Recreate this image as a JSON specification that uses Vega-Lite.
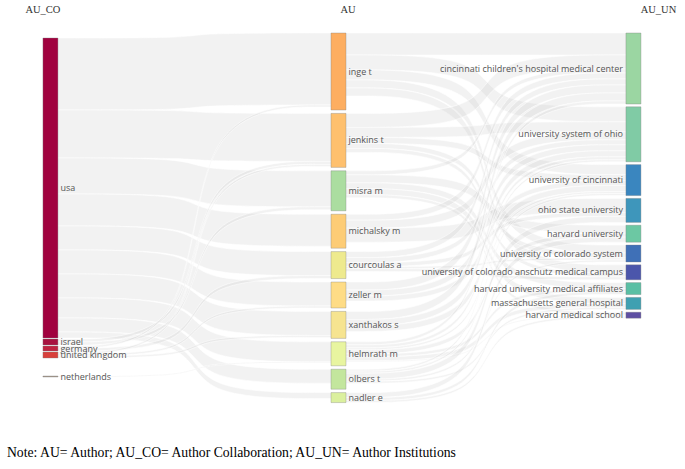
{
  "$schema": "https://vega.github.io/schema/vega-lite/v6.json",
  "width": 685,
  "height": 469,
  "autosize": {"type": "fit", "contains": "padding"},
  "padding": 0,
  "background": "white",
  "config": {"view": {"stroke": null}},
  "datasets": {
    "sankey": [
      {"kind": "node", "name": "usa", "col": 0, "ord": 0, "value": 300},
      {"kind": "node", "name": "israel", "col": 0, "ord": 1, "value": 6},
      {"kind": "node", "name": "germany", "col": 0, "ord": 2, "value": 5},
      {"kind": "node", "name": "united kingdom", "col": 0, "ord": 3, "value": 6},
      {"kind": "node", "name": "netherlands", "col": 0, "ord": 4, "value": 1},
      {"kind": "node", "name": "inge t", "col": 1, "ord": 0, "value": 77},
      {"kind": "node", "name": "jenkins t", "col": 1, "ord": 1, "value": 54},
      {"kind": "node", "name": "misra m", "col": 1, "ord": 2, "value": 40},
      {"kind": "node", "name": "michalsky m", "col": 1, "ord": 3, "value": 34},
      {"kind": "node", "name": "courcoulas a", "col": 1, "ord": 4, "value": 27},
      {"kind": "node", "name": "zeller m", "col": 1, "ord": 5, "value": 26},
      {"kind": "node", "name": "xanthakos s", "col": 1, "ord": 6, "value": 27},
      {"kind": "node", "name": "helmrath m", "col": 1, "ord": 7, "value": 24},
      {"kind": "node", "name": "olbers t", "col": 1, "ord": 8, "value": 20},
      {"kind": "node", "name": "nadler e", "col": 1, "ord": 9, "value": 10},
      {"kind": "node", "name": "cincinnati children's hospital medical center", "col": 2, "ord": 0, "value": 71},
      {"kind": "node", "name": "university system of ohio", "col": 2, "ord": 1, "value": 55},
      {"kind": "node", "name": "university of cincinnati", "col": 2, "ord": 2, "value": 31},
      {"kind": "node", "name": "ohio state university", "col": 2, "ord": 3, "value": 24},
      {"kind": "node", "name": "harvard university", "col": 2, "ord": 4, "value": 17},
      {"kind": "node", "name": "university of colorado system", "col": 2, "ord": 5, "value": 17},
      {"kind": "node", "name": "university of colorado anschutz medical campus", "col": 2, "ord": 6, "value": 15},
      {"kind": "node", "name": "harvard university medical affiliates", "col": 2, "ord": 7, "value": 12},
      {"kind": "node", "name": "massachusetts general hospital", "col": 2, "ord": 8, "value": 12},
      {"kind": "node", "name": "harvard medical school", "col": 2, "ord": 9, "value": 6},

      {"kind": "link", "source": "usa", "target": "inge t", "value": 72},
      {"kind": "link", "source": "usa", "target": "jenkins t", "value": 48},
      {"kind": "link", "source": "usa", "target": "misra m", "value": 36},
      {"kind": "link", "source": "usa", "target": "michalsky m", "value": 32},
      {"kind": "link", "source": "usa", "target": "courcoulas a", "value": 24},
      {"kind": "link", "source": "usa", "target": "zeller m", "value": 24},
      {"kind": "link", "source": "usa", "target": "xanthakos s", "value": 24},
      {"kind": "link", "source": "usa", "target": "helmrath m", "value": 20},
      {"kind": "link", "source": "usa", "target": "olbers t", "value": 14},
      {"kind": "link", "source": "usa", "target": "nadler e", "value": 6},
      {"kind": "link", "source": "israel", "target": "jenkins t", "value": 3},
      {"kind": "link", "source": "israel", "target": "misra m", "value": 3},
      {"kind": "link", "source": "germany", "target": "inge t", "value": 2},
      {"kind": "link", "source": "germany", "target": "courcoulas a", "value": 3},
      {"kind": "link", "source": "united kingdom", "target": "jenkins t", "value": 2},
      {"kind": "link", "source": "united kingdom", "target": "zeller m", "value": 2},
      {"kind": "link", "source": "united kingdom", "target": "xanthakos s", "value": 2},
      {"kind": "link", "source": "netherlands", "target": "helmrath m", "value": 1},

      {"kind": "link", "source": "inge t", "target": "cincinnati children's hospital medical center", "value": 22},
      {"kind": "link", "source": "inge t", "target": "university system of ohio", "value": 15},
      {"kind": "link", "source": "inge t", "target": "university of cincinnati", "value": 10},
      {"kind": "link", "source": "inge t", "target": "university of colorado system", "value": 8},
      {"kind": "link", "source": "inge t", "target": "university of colorado anschutz medical campus", "value": 8},
      {"kind": "link", "source": "jenkins t", "target": "cincinnati children's hospital medical center", "value": 14},
      {"kind": "link", "source": "jenkins t", "target": "university system of ohio", "value": 10},
      {"kind": "link", "source": "jenkins t", "target": "university of cincinnati", "value": 6},
      {"kind": "link", "source": "jenkins t", "target": "university of colorado system", "value": 5},
      {"kind": "link", "source": "jenkins t", "target": "university of colorado anschutz medical campus", "value": 4},
      {"kind": "link", "source": "misra m", "target": "cincinnati children's hospital medical center", "value": 4},
      {"kind": "link", "source": "misra m", "target": "harvard university", "value": 8},
      {"kind": "link", "source": "misra m", "target": "harvard university medical affiliates", "value": 6},
      {"kind": "link", "source": "misra m", "target": "massachusetts general hospital", "value": 6},
      {"kind": "link", "source": "misra m", "target": "harvard medical school", "value": 3},
      {"kind": "link", "source": "michalsky m", "target": "cincinnati children's hospital medical center", "value": 6},
      {"kind": "link", "source": "michalsky m", "target": "university system of ohio", "value": 8},
      {"kind": "link", "source": "michalsky m", "target": "ohio state university", "value": 14},
      {"kind": "link", "source": "courcoulas a", "target": "cincinnati children's hospital medical center", "value": 6},
      {"kind": "link", "source": "courcoulas a", "target": "university system of ohio", "value": 5},
      {"kind": "link", "source": "courcoulas a", "target": "ohio state university", "value": 4},
      {"kind": "link", "source": "courcoulas a", "target": "university of colorado system", "value": 2},
      {"kind": "link", "source": "courcoulas a", "target": "university of colorado anschutz medical campus", "value": 3},
      {"kind": "link", "source": "zeller m", "target": "cincinnati children's hospital medical center", "value": 8},
      {"kind": "link", "source": "zeller m", "target": "university system of ohio", "value": 6},
      {"kind": "link", "source": "zeller m", "target": "university of cincinnati", "value": 5},
      {"kind": "link", "source": "xanthakos s", "target": "cincinnati children's hospital medical center", "value": 8},
      {"kind": "link", "source": "xanthakos s", "target": "university system of ohio", "value": 6},
      {"kind": "link", "source": "xanthakos s", "target": "university of cincinnati", "value": 6},
      {"kind": "link", "source": "helmrath m", "target": "cincinnati children's hospital medical center", "value": 3},
      {"kind": "link", "source": "helmrath m", "target": "university system of ohio", "value": 3},
      {"kind": "link", "source": "helmrath m", "target": "university of cincinnati", "value": 2},
      {"kind": "link", "source": "helmrath m", "target": "harvard university", "value": 4},
      {"kind": "link", "source": "helmrath m", "target": "harvard university medical affiliates", "value": 3},
      {"kind": "link", "source": "helmrath m", "target": "massachusetts general hospital", "value": 4},
      {"kind": "link", "source": "helmrath m", "target": "harvard medical school", "value": 1},
      {"kind": "link", "source": "olbers t", "target": "university system of ohio", "value": 2},
      {"kind": "link", "source": "olbers t", "target": "university of cincinnati", "value": 2},
      {"kind": "link", "source": "olbers t", "target": "ohio state university", "value": 6},
      {"kind": "link", "source": "olbers t", "target": "university of colorado system", "value": 2},
      {"kind": "link", "source": "olbers t", "target": "massachusetts general hospital", "value": 2},
      {"kind": "link", "source": "nadler e", "target": "harvard university", "value": 5},
      {"kind": "link", "source": "nadler e", "target": "harvard university medical affiliates", "value": 3},
      {"kind": "link", "source": "nadler e", "target": "harvard medical school", "value": 2}
    ]
  },
  "layer": [
    {
      "data": {"name": "sankey"},
      "transform": [
        {"calculate": "datum.kind == 'node' ? datum.name : datum.source", "as": "skey"},
        {"calculate": "datum.kind == 'node' ? datum.name : datum.target", "as": "tkey"},
        {"window": [{"op": "sum", "field": "value", "as": "cum"}], "groupby": ["kind", "col"], "sort": [{"field": "ord", "order": "ascending"}], "frame": [null, 0]},
        {"calculate": "datum.kind == 'node' ? [38, 33, 33][datum.col] + datum.cum - datum.value + datum.ord * [1, 3.4, 2.8][datum.col] + (datum.col == 0 && datum.ord == 4 ? 17 : 0) : null", "as": "ny0"},
        {"joinaggregate": [{"op": "max", "field": "ny0", "as": "sNY"}, {"op": "max", "field": "ord", "as": "sOrd"}, {"op": "max", "field": "col", "as": "sCol"}], "groupby": ["skey"]},
        {"joinaggregate": [{"op": "max", "field": "ny0", "as": "tNY"}, {"op": "max", "field": "ord", "as": "tOrd"}], "groupby": ["tkey"]},
        {"filter": "datum.kind == 'link'"},
        {"window": [{"op": "sum", "field": "value", "as": "sCum"}], "groupby": ["source"], "sort": [{"field": "tOrd", "order": "ascending"}], "frame": [null, 0]},
        {"window": [{"op": "sum", "field": "value", "as": "tCum"}], "groupby": ["target"], "sort": [{"field": "sOrd", "order": "ascending"}], "frame": [null, 0]},
        {"calculate": "[0, 1, 2, 3]", "as": "k"},
        {"flatten": ["k"]},
        {"calculate": "datum.sCol + (datum.k == 0 ? 0 : (datum.k == 3 ? 1 : 0.5))", "as": "px"},
        {"calculate": "datum.k < 2 ? datum.sNY + datum.sCum - datum.value : datum.tNY + datum.tCum - datum.value", "as": "top"},
        {"calculate": "datum.k < 2 ? datum.sNY + datum.sCum : datum.tNY + datum.tCum", "as": "bot"},
        {"calculate": "datum.source + '|' + datum.target", "as": "lid"}
      ],
      "mark": {"type": "area", "interpolate": "basis", "fill": "#c4c4c4", "fillOpacity": 0.22, "stroke": "#ffffff", "strokeWidth": 0.7, "strokeOpacity": 0.8},
      "encoding": {
        "x": {"field": "px", "type": "quantitative", "axis": null, "scale": {"type": "linear", "domain": [0, 1, 2], "range": [45.5, 338.5, 638.5], "zero": false, "nice": false}},
        "y": {"field": "top", "type": "quantitative", "axis": null, "scale": {"type": "linear", "domain": [0, 469], "reverse": true, "zero": false, "nice": false}},
        "y2": {"field": "bot"},
        "detail": {"field": "lid", "type": "nominal"}
      }
    },
    {
      "data": {"name": "sankey"},
      "transform": [
        {"filter": "datum.kind == 'node'"},
        {"window": [{"op": "sum", "field": "value", "as": "cum"}], "groupby": ["col"], "sort": [{"field": "ord", "order": "ascending"}], "frame": [null, 0]},
        {"calculate": "[38, 33, 33][datum.col] + datum.cum - datum.value + datum.ord * [1, 3.4, 2.8][datum.col] + (datum.col == 0 && datum.ord == 4 ? 17 : 0)", "as": "ny0"},
        {"calculate": "datum.ny0 + datum.value", "as": "ny1"}
      ],
      "mark": {"type": "bar", "width": 15, "stroke": "#808080", "strokeWidth": 0.5, "strokeOpacity": 0.7},
      "encoding": {
        "x": {"field": "col", "type": "quantitative", "axis": null, "scale": {"type": "linear", "domain": [0, 1, 2], "range": [45.5, 338.5, 638.5], "zero": false, "nice": false}},
        "y": {"field": "ny0", "type": "quantitative", "axis": null, "scale": {"type": "linear", "domain": [0, 469], "reverse": true, "zero": false, "nice": false}},
        "y2": {"field": "ny1"},
        "color": {
          "field": "name", "type": "nominal", "legend": null,
          "scale": {
            "domain": ["usa", "israel", "germany", "united kingdom", "netherlands", "inge t", "jenkins t", "misra m", "michalsky m", "courcoulas a", "zeller m", "xanthakos s", "helmrath m", "olbers t", "nadler e", "cincinnati children's hospital medical center", "university system of ohio", "university of cincinnati", "ohio state university", "harvard university", "university of colorado system", "university of colorado anschutz medical campus", "harvard university medical affiliates", "massachusetts general hospital", "harvard medical school"],
            "range": ["#a0023f", "#a8123f", "#c02340", "#d8403c", "#a89a8c", "#fdae61", "#fec06e", "#abdda0", "#fdcc76", "#eeea8e", "#fedc86", "#f6e490", "#e8f5a0", "#c3e69d", "#dbf09e", "#9bd6a2", "#80cba5", "#3a86bf", "#3e96bb", "#6cc8a3", "#3f70b7", "#4b56ab", "#5abfa4", "#3fa0b1", "#5e4fa2"]
          }
        }
      }
    },
    {
      "data": {"name": "sankey"},
      "transform": [
        {"filter": "datum.kind == 'node'"},
        {"window": [{"op": "sum", "field": "value", "as": "cum"}], "groupby": ["col"], "sort": [{"field": "ord", "order": "ascending"}], "frame": [null, 0]},
        {"calculate": "[38, 33, 33][datum.col] + datum.cum - datum.value + datum.ord * [1, 3.4, 2.8][datum.col] + (datum.col == 0 && datum.ord == 4 ? 17 : 0)", "as": "ny0"},
        {"calculate": "datum.ny0 + datum.value / 2", "as": "mid"},
        {"filter": "datum.col < 2"}
      ],
      "mark": {"type": "text", "align": "left", "baseline": "middle", "dx": 10, "font": "Open Sans", "fontSize": 9, "color": "#555555"},
      "encoding": {
        "x": {"field": "col", "type": "quantitative", "axis": null, "scale": {"type": "linear", "domain": [0, 1, 2], "range": [45.5, 338.5, 638.5], "zero": false, "nice": false}},
        "y": {"field": "mid", "type": "quantitative", "axis": null, "scale": {"type": "linear", "domain": [0, 469], "reverse": true, "zero": false, "nice": false}},
        "text": {"field": "name", "type": "nominal"}
      }
    },
    {
      "data": {"name": "sankey"},
      "transform": [
        {"filter": "datum.kind == 'node'"},
        {"window": [{"op": "sum", "field": "value", "as": "cum"}], "groupby": ["col"], "sort": [{"field": "ord", "order": "ascending"}], "frame": [null, 0]},
        {"calculate": "[38, 33, 33][datum.col] + datum.cum - datum.value + datum.ord * [1, 3.4, 2.8][datum.col]", "as": "ny0"},
        {"calculate": "datum.ny0 + datum.value / 2", "as": "mid"},
        {"filter": "datum.col == 2"}
      ],
      "mark": {"type": "text", "align": "right", "baseline": "middle", "dx": -10.5, "font": "Open Sans", "fontSize": 9, "color": "#555555"},
      "encoding": {
        "x": {"field": "col", "type": "quantitative", "axis": null, "scale": {"type": "linear", "domain": [0, 1, 2], "range": [45.5, 338.5, 638.5], "zero": false, "nice": false}},
        "y": {"field": "mid", "type": "quantitative", "axis": null, "scale": {"type": "linear", "domain": [0, 469], "reverse": true, "zero": false, "nice": false}},
        "text": {"field": "name", "type": "nominal"}
      }
    },
    {
      "data": {"values": [{"h": "AU_CO", "col": 0}]},
      "mark": {"type": "text", "align": "center", "baseline": "alphabetic", "dx": -7.5, "font": "Liberation Serif", "fontSize": 10.5, "color": "#333333"},
      "encoding": {
        "x": {"field": "col", "type": "quantitative", "axis": null, "scale": {"type": "linear", "domain": [0, 1, 2], "range": [45.5, 338.5, 638.5], "zero": false, "nice": false}},
        "y": {"datum": 13, "type": "quantitative", "axis": null, "scale": {"type": "linear", "domain": [0, 469], "reverse": true, "zero": false, "nice": false}},
        "text": {"field": "h", "type": "nominal"}
      }
    },
    {
      "data": {"values": [{"h": "AU", "col": 1}]},
      "mark": {"type": "text", "align": "center", "baseline": "alphabetic", "dx": 9.5, "font": "Liberation Serif", "fontSize": 10.5, "color": "#333333"},
      "encoding": {
        "x": {"field": "col", "type": "quantitative", "axis": null, "scale": {"type": "linear", "domain": [0, 1, 2], "range": [45.5, 338.5, 638.5], "zero": false, "nice": false}},
        "y": {"datum": 13, "type": "quantitative", "axis": null, "scale": {"type": "linear", "domain": [0, 469], "reverse": true, "zero": false, "nice": false}},
        "text": {"field": "h", "type": "nominal"}
      }
    },
    {
      "data": {"values": [{"h": "AU_UN", "col": 2}]},
      "mark": {"type": "text", "align": "center", "baseline": "alphabetic", "dx": 25, "font": "Liberation Serif", "fontSize": 10.5, "color": "#333333"},
      "encoding": {
        "x": {"field": "col", "type": "quantitative", "axis": null, "scale": {"type": "linear", "domain": [0, 1, 2], "range": [45.5, 338.5, 638.5], "zero": false, "nice": false}},
        "y": {"datum": 13, "type": "quantitative", "axis": null, "scale": {"type": "linear", "domain": [0, 469], "reverse": true, "zero": false, "nice": false}},
        "text": {"field": "h", "type": "nominal"}
      }
    },
    {
      "data": {"values": [{"note": "Note: AU= Author; AU_CO= Author Collaboration; AU_UN= Author Institutions", "col": 0}]},
      "mark": {"type": "text", "align": "left", "baseline": "alphabetic", "dx": -43.5, "font": "Liberation Serif", "fontSize": 13.7, "color": "#000000"},
      "encoding": {
        "x": {"field": "col", "type": "quantitative", "axis": null, "scale": {"type": "linear", "domain": [0, 1, 2], "range": [45.5, 338.5, 638.5], "zero": false, "nice": false}},
        "y": {"datum": 457, "type": "quantitative", "axis": null, "scale": {"type": "linear", "domain": [0, 469], "reverse": true, "zero": false, "nice": false}},
        "text": {"field": "note", "type": "nominal"}
      }
    }
  ]
}
